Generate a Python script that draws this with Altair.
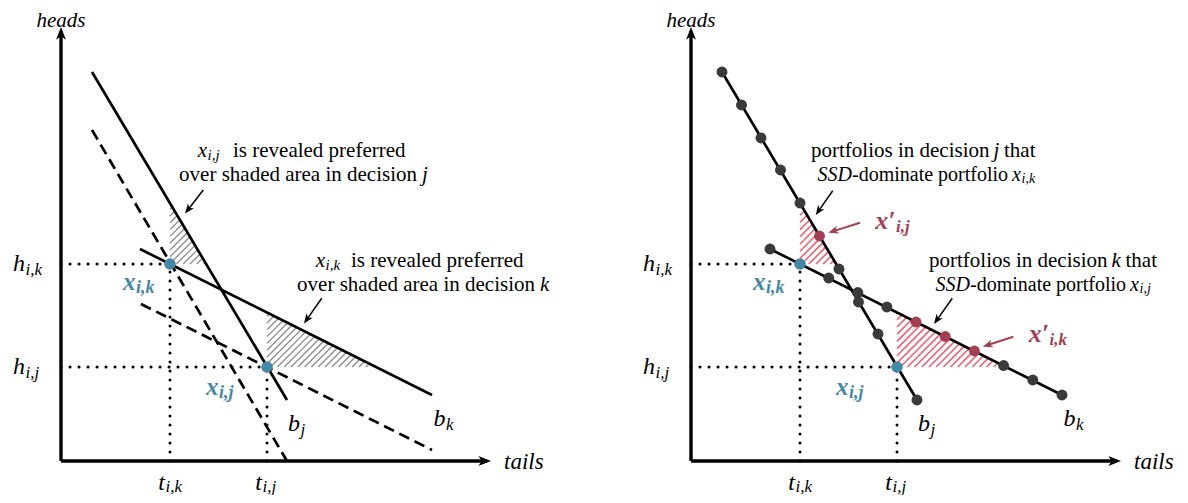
import math
import pandas as pd
import altair as alt

# ---------------- data (abstract units, origin at the axes corner of each panel) ----------------
T_IK, H_IK = 10.9, 19.7          # chosen portfolio in decision k
T_IJ, H_IJ = 20.6, 9.4           # chosen portfolio in decision j
BUDGET_J_T = [3.1, 22.6]
BUDGET_J_H = [38.9, 6.1]
BUDGET_K_T = [7.9, 37.1]
BUDGET_K_H = [21.2, 6.6]
SHIFT_J_T = [3.1, 22.6]          # b_j shifted through x_ik (dashed)
SHIFT_J_H = [33.1, 0.0]
SHIFT_K_T = [8.0, 37.1]          # b_k shifted through x_ij (dashed)
SHIFT_K_H = [15.7, 1.1]
DOTS_J_T = [3.1, 5.05, 7.0, 8.95, 10.9, 12.85, 14.8, 16.75, 18.7, 20.6, 22.6]
DOTS_J_H = [38.9, 35.6, 32.3, 29.1, 25.8, 22.5, 19.2, 15.9, 12.7, 9.4, 6.1]
DOTS_K_T = [7.9, 10.9, 13.77, 16.68, 19.59, 22.5, 25.42, 28.34, 31.26, 34.18, 37.1]
DOTS_K_H = [21.2, 19.7, 18.3, 16.85, 15.4, 13.9, 12.45, 11.0, 9.55, 8.1, 6.6]
RED_J = [5]
RED_K = [5, 6, 7]
TEAL_J = [9]
TEAL_K = [1]

# ---------------- styling / layout ----------------
FONT = "Liberation Serif, DejaVu Serif, serif"
BLACK = "#000000"
TEAL = "#4388A5"
RED = "#A53E50"
PINK = "#EF5F70"
GRAY = "#8C8C8C"
DOTC = "#3A3A3A"
OFF = {"L": 0.0, "R": 63.0}      # horizontal offset of each panel
XDOM = [-5.3, 111.9]
YDOM = [-3.4, 45.3]
W, H = 1172, 487
HEAD = "M0,0 L-0.78,2 L0,1.45 L0.78,2 Z"
AF = 21                           # annotation font size

XS = alt.Scale(domain=XDOM, nice=False, zero=False)
YS = alt.Scale(domain=YDOM, nice=False, zero=False)


def X(f="u"):
    return alt.X(f"{f}:Q", scale=XS, axis=None)


def Y(f="v"):
    return alt.Y(f"{f}:Q", scale=YS, axis=None)


def segs(p, rows, color, width, dash=None, cap="butt"):
    o = OFF[p]
    df = pd.DataFrame([(a + o, b, c + o, d) for a, b, c, d in rows], columns=["u", "v", "u2", "v2"])
    kw = dict(color=color, strokeWidth=width, strokeCap=cap)
    if dash:
        kw["strokeDash"] = dash
    return alt.Chart(df).mark_rule(**kw).encode(
        x=X(), y=Y(), x2=alt.X2("u2"), y2=alt.Y2("v2"))


def dots(p, ts, hs, color, size):
    df = pd.DataFrame({"u": [t + OFF[p] for t in ts], "v": hs})
    return alt.Chart(df).mark_circle(color=color, size=size, opacity=1).encode(x=X(), y=Y())


def txt(p, u, v, s, size=AF, italic=False, bold=False, color=BLACK, align="left"):
    df = pd.DataFrame({"u": [u + OFF[p]], "v": [v], "s": [s]})
    return alt.Chart(df).mark_text(
        font=FONT, fontSize=size, fontStyle="italic" if italic else "normal",
        fontWeight="bold" if bold else "normal", color=color, align=align,
        baseline="middle").encode(x=X(), y=Y(), text="s:N")


def mlabel(p, u, v, base, sub, size=24, subsize=17, color=BLACK, bold=False, drop=0.55):
    return [txt(p, u, v, base, size, True, bold, color, "right"),
            txt(p, u + 0.05, v - drop, sub, subsize, True, bold, color, "left")]


def arrows(p, rows, color, width, head):
    o = OFF[p]
    out = []
    for (u, v, u2, v2) in rows:
        du, dv = u2 - u, v2 - v
        L = math.hypot(du, dv)
        back = 0.45 / L
        out.append((u + o, v, u2 - du * back + o, v2 - dv * back,
                    u2 + o, v2, math.degrees(math.atan2(du, dv)) % 360))
    df = pd.DataFrame(out, columns=["u", "v", "su", "sv", "tu", "tv", "ang"])
    shaft = alt.Chart(df).mark_rule(color=color, strokeWidth=width).encode(
        x=X(), y=Y(), x2=alt.X2("su"), y2=alt.Y2("sv"))
    tip = alt.Chart(df).mark_point(shape=HEAD, filled=True, size=head, color=color,
                                   opacity=1, strokeWidth=0).encode(
        x=X("tu"), y=Y("tv"), angle=alt.Angle("ang:Q", scale=None))
    return [shaft, tip]


def hatch(t0, h0, lt, lh, step):
    m = (lh[1] - lh[0]) / (lt[1] - lt[0])
    b = lh[0] - m * lt[0]
    top = m * t0 + b
    right = (h0 - b) / m
    rows = []
    k = math.floor((h0 - right) / step)
    while k * step <= top - t0:
        c = k * step
        lo = max(t0, h0 - c)
        hi = (b - c) / (1 - m)
        if hi > lo:
            rows.append((lo, lo + c, hi, hi + c))
        k += 1
    return rows


def panel(p):
    L = []
    hc, hw, hs = (GRAY, 1.3, 0.68) if p == "L" else (PINK, 1.6, 0.72)
    L.append(segs(p, hatch(T_IK, H_IK, BUDGET_J_T, BUDGET_J_H, hs), hc, hw))
    L.append(segs(p, hatch(T_IJ, H_IJ, BUDGET_K_T, BUDGET_K_H, hs), hc, hw))
    # dotted guides
    L.append(segs(p, [(0, H_IK, T_IK, H_IK), (0, H_IJ, T_IJ, H_IJ),
                      (T_IK, 0, T_IK, H_IK), (T_IJ, 0, T_IJ, H_IJ)],
                  BLACK, 3.0, [0.1, 8.9], "round"))
    if p == "L":
        L.append(segs(p, [(SHIFT_J_T[0], SHIFT_J_H[0], SHIFT_J_T[1], SHIFT_J_H[1]),
                          (SHIFT_K_T[0], SHIFT_K_H[0], SHIFT_K_T[1], SHIFT_K_H[1])],
                      BLACK, 2.7, [11, 6]))
    L.append(segs(p, [(BUDGET_J_T[0], BUDGET_J_H[0], BUDGET_J_T[1], BUDGET_J_H[1]),
                      (BUDGET_K_T[0], BUDGET_K_H[0], BUDGET_K_T[1], BUDGET_K_H[1])],
                  BLACK, 2.7))
    # axes
    L.append(segs(p, [(0, 0, 0, 43.0), (0, 0, 42.6, 0)], BLACK, 3.4))
    ax = pd.DataFrame({"u": [OFF[p], 43.0 + OFF[p]], "v": [43.4, 0], "ang": [0, 90]})
    L.append(alt.Chart(ax).mark_point(shape=HEAD, filled=True, size=160, color=BLACK,
                                      opacity=1, strokeWidth=0).encode(
        x=X(), y=Y(), angle=alt.Angle("ang:Q", scale=None)))
    if p == "R":
        dj = [i for i in range(len(DOTS_J_T)) if i not in RED_J + TEAL_J]
        dk = [i for i in range(len(DOTS_K_T)) if i not in RED_K + TEAL_K]
        L.append(dots(p, [DOTS_J_T[i] for i in dj] + [DOTS_K_T[i] for i in dk],
                      [DOTS_J_H[i] for i in dj] + [DOTS_K_H[i] for i in dk], DOTC, 120))
        L.append(dots(p, [DOTS_J_T[i] for i in RED_J] + [DOTS_K_T[i] for i in RED_K],
                      [DOTS_J_H[i] for i in RED_J] + [DOTS_K_H[i] for i in RED_K], RED, 120))
    L.append(dots(p, [T_IK, T_IJ], [H_IK, H_IJ], TEAL, 135))
    # axis titles
    L.append(txt(p, 0, 44.0, "heads", 21, True, align="center"))
    L.append(txt(p, 44.3, -0.1, "tails", 23, True))
    # tick-like labels
    L += mlabel(p, -3.6, H_IK, "h", "i,k")
    L += mlabel(p, -3.6, H_IJ, "h", "i,j")
    L += mlabel(p, T_IK - 0.5, -2.2, "t", "i,k", drop=0.42)
    L += mlabel(p, T_IJ - 0.5, -2.2, "t", "i,j", drop=0.42)
    L += mlabel(p, T_IK - 3.45, H_IK - 1.8, "x", "i,k", 25, 18, TEAL, True)
    L += mlabel(p, T_IJ - 4.85, H_IJ - 2.0, "x", "i,j", 25, 18, TEAL, True)
    L += mlabel(p, 23.9, 3.7, "b", "j")
    L += mlabel(p, 38.45, 4.2, "b", "k")
    # annotations
    if p == "L":
        for (du, dv, who, dec) in [(0, 0, "i,j", "j"), (11.8, -11.0, "i,k", "k")]:
            L += mlabel(p, 14.6 + du, 31.0 + dv, "x", who, AF, 15, drop=0.35)
            L.append(txt(p, 17.2 + du, 31.0 + dv, "is revealed preferred"))
            L.append(txt(p, 35.6 + du, 28.6 + dv, "over shaded area in decision", align="right"))
            L.append(txt(p, 36.1 + du, 28.6 + dv, dec, AF, True))
        L += arrows(p, [(14.23, 27.1, 12.4, 24.75), (26.07, 16.27, 24.3, 13.75)], BLACK, 1.5, 95)
    else:
        for (du, dv, dec, who, gap) in [(0, 0, "j", "i,k", 0.0), (11.8, -11.0, "k", "i,j", 0.35)]:
            L.append(txt(p, 12.0 + du, 31.0 + dv, "portfolios in decision"))
            L.append(txt(p, 30.25 + du, 31.0 + dv, dec, AF, True))
            L.append(txt(p, 31.3 + gap + du, 31.0 + dv, "that"))
            L.append(txt(p, 16.1 + du, 28.6 + dv, "SSD", 20, True, align="right"))
            L.append(txt(p, 16.1 + du, 28.6 + dv, "-dominate portfolio", 20))
            L += mlabel(p, 33.0 + du, 28.6 + dv, "x", who, 20, 14, drop=0.35)
        L += arrows(p, [(14.17, 27.03, 12.47, 24.6), (26.13, 16.27, 24.3, 13.7)], BLACK, 1.5, 95)
        L += arrows(p, [(16.9, 23.83, 13.73, 22.83), (32.23, 12.43, 29.17, 11.43)], RED, 2.0, 105)
        L += mlabel(p, 20.45, 24.0, "x\u2032", "i,j", 26, 17, RED, True)
        L += mlabel(p, 35.8, 12.7, "x\u2032", "i,k", 26, 17, RED, True)
    return L


chart = alt.layer(*(panel("L") + panel("R"))).properties(
    width=W, height=H, padding=0, autosize=alt.AutoSizeParams(type="none")
).configure_view(stroke=None)

chart.save("out.html", embed_options={"renderer": "svg", "actions": False})
